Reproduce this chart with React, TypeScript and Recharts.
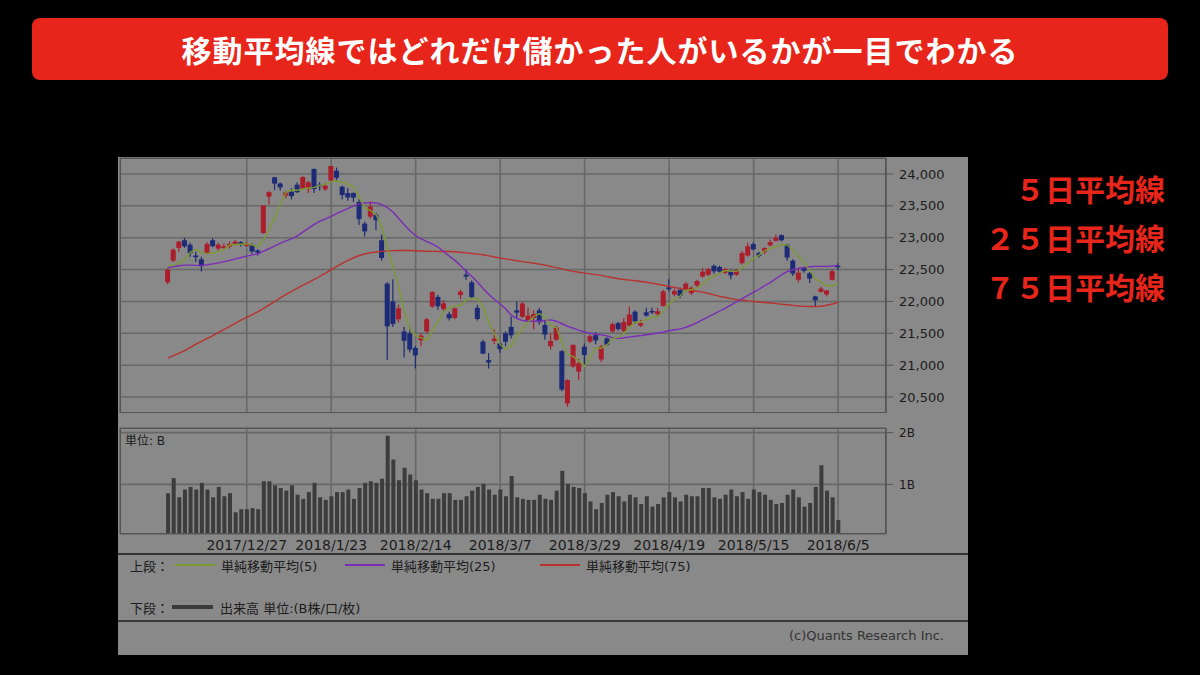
import { ComposedChart, Bar, Line, XAxis, YAxis, CartesianGrid } from "recharts";

// Nikkei 225 daily, 2017/12/7 - 2018/6/5 (index 0..119)
const opens = [
  22300, 22640, 22840, 22960, 22890, 22720, 22660, 22760, 22960, 22830,
  22840, 22860, 22900, 22930, 22870, 22890, 22800, 23073, 23643, 23948,
  23850, 23660, 23720, 23830, 23770, 23760, 24078, 23830, 23760, 23900,
  24050, 23800, 23700, 23700, 23560, 23220, 23330, 23360, 22960, 22280,
  22000, 21720, 21530, 21500, 21270, 21390, 21530, 21920, 22070, 21880,
  21800, 21740, 22100, 22420, 22300, 21900, 21370, 21080, 21380, 21340,
  21500, 21600, 21860, 21760, 21700, 21740, 21860, 21630, 21300, 21400,
  21220, 20400, 20980, 20900, 21290, 21370, 21470, 21090, 21420, 21530,
  21660, 21540, 21620, 21840, 21620, 21830, 21850, 21800, 21930, 22220,
  22110, 22180, 22180, 22130, 22250, 22390, 22420, 22560, 22540, 22450,
  22480, 22420, 22600, 22720, 22900, 22760, 22780, 22880, 22950, 23040,
  22890, 22640, 22340, 22520, 22440, 22080, 22150, 22110, 22340, 22560,
];
const highs = [
  22520, 22830, 22950, 23000, 22920, 22780, 22700, 22930, 22990, 22920,
  22910, 22940, 22960, 22950, 22930, 22910, 22820, 23506, 23730, 23952,
  23864, 23730, 23780, 23870, 23962, 23891, 24084, 23870, 23850, 24129,
  24100, 23820, 23780, 23710, 23600, 23250, 23570, 23390, 23050, 22300,
  22350, 21950, 21600, 21600, 21300, 21500, 21740, 22160, 22100, 22020,
  21840, 21900, 22180, 22500, 22330, 21950, 21400, 21190, 21560, 21360,
  21530, 21760, 22000, 21990, 21900, 21860, 21900, 21710, 21500, 21620,
  21240, 20780, 21330, 21100, 21340, 21480, 21520, 21320, 21440, 21670,
  21680, 21740, 21920, 21860, 21710, 21900, 21900, 21900, 22180, 22350,
  22200, 22220, 22300, 22240, 22340, 22520, 22530, 22580, 22560, 22530,
  22500, 22510, 22790, 22920, 22930, 22780, 22850, 22970, 23050, 23050,
  22900, 22660, 22520, 22540, 22460, 22090, 22230, 22180, 22500, 22600,
];
const lows = [
  22270, 22620, 22780, 22840, 22700, 22620, 22470, 22740, 22850, 22800,
  22810, 22830, 22880, 22860, 22860, 22750, 22720, 23065, 23520, 23750,
  23740, 23620, 23600, 23700, 23750, 23700, 23700, 23740, 23735, 23880,
  23900, 23600, 23580, 23560, 23200, 23020, 23300, 23120, 22640, 21080,
  21600, 21670, 21120, 21200, 20950, 21300, 21500, 21900, 21870, 21850,
  21700, 21720, 22040, 22340, 22050, 21700, 21170, 20950, 21330, 21190,
  21300, 21420, 21740, 21740, 21680, 21560, 21640, 21400, 21250, 21380,
  20590, 20347, 20960, 20770, 21010, 21350, 21330, 21050, 21300, 21510,
  21540, 21520, 21600, 21650, 21600, 21760, 21800, 21780, 21920, 22160,
  22080, 22050, 22160, 22100, 22230, 22370, 22400, 22440, 22440, 22430,
  22350, 22400, 22580, 22700, 22800, 22690, 22740, 22860, 22940, 22940,
  22640, 22400, 22300, 22450, 22290, 21930, 22140, 22080, 22330, 22490,
];
const closes = [
  22498, 22811, 22938, 22866, 22758, 22694, 22553, 22901, 22868, 22891,
  22866, 22902, 22939, 22892, 22911, 22783, 22764, 23506, 23714, 23849,
  23788, 23710, 23653, 23714, 23951, 23868, 23763, 23808, 23816, 24124,
  23940, 23669, 23631, 23629, 23291, 23098, 23486, 23274, 22682, 21610,
  21645, 21891, 21383, 21245, 21154, 21464, 21720, 22150, 21925, 21970,
  21736, 21892, 22153, 22389, 22068, 21724, 21181, 21042, 21417, 21252,
  21368, 21469, 21824, 21968, 21777, 21803, 21676, 21480, 21380, 21591,
  20617, 20766, 21317, 21031, 21159, 21454, 21388, 21292, 21319, 21645,
  21567, 21678, 21794, 21687, 21660, 21778, 21835, 21847, 22158, 22191,
  22162, 22088, 22278, 22215, 22319, 22467, 22508, 22472, 22467, 22509,
  22409, 22497, 22758, 22866, 22818, 22717, 22838, 22930, 23002, 22960,
  22689, 22437, 22451, 22481, 22358, 22018, 22202, 22171, 22475, 22539,
];
// volume, billions of shares
const volumes = [
  0.83, 1.12, 0.75, 0.9, 0.95, 0.9, 1.03, 0.9, 0.75, 0.95,
  0.77, 0.83, 0.46, 0.52, 0.52, 0.54, 0.52, 1.06, 1.06, 0.98,
  0.93, 0.88, 0.98, 0.8, 0.72, 0.85, 1.03, 0.75, 0.7, 0.77,
  0.85, 0.85, 0.9, 0.72, 0.93, 1.03, 1.06, 1.03, 1.11, 1.94,
  1.48, 1.08, 1.32, 1.19, 1.08, 0.9, 0.83, 0.72, 0.72, 0.83,
  0.83, 0.7, 0.7, 0.77, 0.88, 0.95, 1.01, 0.9, 0.8, 0.9,
  0.77, 1.16, 0.75, 0.72, 0.7, 0.7, 0.8, 0.72, 0.7, 0.88,
  1.26, 1.01, 0.95, 0.93, 0.83, 0.67, 0.52, 0.64, 0.8, 0.85,
  0.77, 0.67, 0.8, 0.75, 0.62, 0.77, 0.57, 0.62, 0.75, 0.85,
  0.75, 0.67, 0.8, 0.77, 0.77, 0.93, 0.93, 0.75, 0.72, 0.8,
  0.9, 0.77, 0.85, 0.72, 0.9, 0.85, 0.8, 0.7, 0.62, 0.64,
  0.8, 0.9, 0.75, 0.57, 0.64, 0.95, 1.37, 0.88, 0.75, 0.31,
];
const ma5 = [
  22565, 22563, 22609, 22658, 22774, 22813, 22762, 22754, 22755, 22781,
  22816, 22886, 22893, 22898, 22902, 22885, 22858, 22971, 23136, 23323,
  23524, 23713, 23743, 23743, 23763, 23779, 23790, 23821, 23841, 23876,
  23890, 23871, 23836, 23799, 23632, 23464, 23427, 23356, 23166, 22830,
  22539, 22220, 21842, 21555, 21464, 21427, 21393, 21547, 21683, 21846,
  21900, 21935, 21935, 22028, 22048, 22045, 21903, 21681, 21486, 21323,
  21252, 21310, 21466, 21576, 21681, 21768, 21810, 21741, 21623, 21586,
  21349, 21167, 21134, 21064, 20978, 21145, 21270, 21265, 21322, 21420,
  21442, 21500, 21601, 21674, 21677, 21719, 21751, 21761, 21856, 21962,
  22039, 22089, 22175, 22187, 22212, 22273, 22357, 22396, 22447, 22485,
  22473, 22471, 22528, 22608, 22670, 22731, 22799, 22834, 22861, 22889,
  22884, 22804, 22708, 22604, 22483, 22349, 22302, 22246, 22245, 22281,
];
const ma25 = [
  22530, 22545, 22560, 22570, 22570, 22565, 22565, 22575, 22590, 22605,
  22625, 22645, 22668, 22690, 22710, 22730, 22745, 22790, 22830, 22870,
  22915, 22950, 22985, 23030, 23090, 23150, 23210, 23260, 23295, 23335,
  23380, 23420, 23460, 23500, 23530, 23545, 23550, 23545, 23520, 23470,
  23400, 23300, 23200, 23110, 23030, 22980, 22940, 22900, 22850, 22780,
  22710, 22640, 22560, 22470, 22390, 22300, 22200, 22110, 22030, 21960,
  21880, 21780, 21730, 21700, 21690, 21690, 21690, 21700, 21710, 21690,
  21650, 21610, 21580, 21545, 21520, 21500, 21485, 21475, 21460, 21430,
  21420, 21430, 21445, 21455, 21465, 21478, 21490, 21505, 21520, 21540,
  21555, 21570, 21595, 21630, 21670, 21715, 21760, 21805, 21850, 21895,
  21945, 21995, 22045, 22095, 22145, 22195, 22250, 22300, 22360, 22420,
  22470, 22500, 22520, 22535, 22545, 22550, 22550, 22550, 22555, 22565,
];
const ma75 = [
  21110, 21150, 21190, 21230, 21280, 21330, 21375, 21420, 21465, 21515,
  21560, 21610, 21660, 21705, 21750, 21795, 21840, 21890, 21945, 22000,
  22060, 22110, 22160, 22210, 22255, 22300, 22345, 22395, 22445, 22500,
  22550, 22600, 22645, 22685, 22720, 22745, 22765, 22775, 22785, 22792,
  22797, 22800, 22800, 22798, 22795, 22792, 22788, 22785, 22784, 22784,
  22783, 22780, 22772, 22762, 22752, 22742, 22732, 22715, 22698, 22682,
  22668, 22652, 22638, 22625, 22612, 22600, 22585, 22568, 22550, 22530,
  22510, 22488, 22472, 22458, 22445, 22432, 22420, 22408, 22390, 22372,
  22355, 22345, 22335, 22324, 22312, 22300, 22288, 22270, 22253, 22236,
  22218, 22200, 22184, 22172, 22160, 22147, 22125, 22102, 22080, 22062,
  22045, 22027, 22018, 22008, 22000, 21992, 21983, 21975, 21965, 21955,
  21948, 21938, 21928, 21922, 21920, 21920, 21925, 21940, 21960, 21985,
];

const tickIndex = [14, 29, 44, 59, 74, 89, 104, 119];
const tickLabels = [
  "2017/12/27", "2018/1/23", "2018/2/14", "2018/3/7",
  "2018/3/29", "2018/4/19", "2018/5/15", "2018/6/5",
];
const priceTicks = [20500, 21000, 21500, 22000, 22500, 23000, 23500, 24000];
const volumeTicks = [1, 2];

const rows = closes.map((close, i) => ({
  i,
  open: opens[i],
  high: highs[i],
  low: lows[i],
  close,
  range: [lows[i], highs[i]],
  volume: volumes[i],
  ma5: ma5[i],
  ma25: ma25[i],
  ma75: ma75[i],
}));

const PANEL = "#898989";
const GRID = "#686868";
const BORDER = "#555";
const TEXT = "#1c1c1c";
const UP = "#ab1d2b";
const DOWN = "#1d2a76";
const RED = "#e8251a";
const X_DOMAIN = [-8.5, 127.5];

function Candle(props: any) {
  const { x, y, width, height, payload } = props;
  if (!payload) return null;
  const { open, close, high, low } = payload;
  const top = Math.min(y, y + height);
  const h = Math.abs(height);
  const k = high > low ? h / (high - low) : 0;
  const yo = top + (high - open) * k;
  const yc = top + (high - close) * k;
  const color = close >= open ? UP : DOWN;
  const cx = x + width / 2;
  return (
    <g>
      <line x1={cx} x2={cx} y1={top} y2={top + h} stroke={color} strokeWidth={1.2} />
      <rect
        x={x}
        y={Math.min(yo, yc)}
        width={width}
        height={Math.max(1.5, Math.abs(yo - yc))}
        fill={color}
      />
    </g>
  );
}

const fmtDate = (v: number) => tickLabels[tickIndex.indexOf(v)] ?? "";

export default function App() {
  return (
    <div
      style={{
        position: "absolute",
        left: 0,
        top: 0,
        width: 1200,
        height: 675,
        background: "#000",
        overflow: "hidden",
        fontFamily: "'DejaVu Sans', 'Noto Sans CJK JP', sans-serif",
      }}
    >
      {/* title banner */}
      <div
        style={{
          position: "absolute",
          left: 32,
          top: 18,
          width: 1136,
          height: 62,
          borderRadius: 8,
          background: RED,
          color: "#fff",
          fontFamily: "'Noto Sans CJK JP', sans-serif",
          fontWeight: 700,
          fontSize: 30,
          letterSpacing: 1,
          lineHeight: "62px",
          textAlign: "center",
        }}
      >
        移動平均線ではどれだけ儲かった人がいるかが一目でわかる
      </div>

      {/* right side labels */}
      {["５日平均線", "２５日平均線", "７５日平均線"].map((t, k) => (
        <div
          key={t}
          style={{
            position: "absolute",
            right: 35,
            top: 168 + k * 49,
            color: RED,
            fontFamily: "'Noto Sans CJK JP', sans-serif",
            fontWeight: 700,
            fontSize: 30,
            lineHeight: "40px",
          }}
        >
          {t}
        </div>
      ))}

      {/* chart panel */}
      <div
        style={{
          position: "absolute",
          left: 118,
          top: 157,
          width: 850,
          height: 498,
          background: PANEL,
        }}
      />

      {/* price chart */}
      <div style={{ position: "absolute", left: 118, top: 157 }}>
        <ComposedChart
          width={850}
          height={256}
          data={rows}
          margin={{ top: 1, right: 0, bottom: 0, left: 2 }}
        >
          <CartesianGrid stroke={GRID} strokeWidth={1.6} />
          <XAxis
            dataKey="i"
            type="number"
            domain={X_DOMAIN}
            ticks={tickIndex}
            allowDataOverflow
            hide
          />
          <YAxis
            orientation="right"
            domain={[20250, 24250]}
            ticks={priceTicks}
            allowDataOverflow
            width={82}
            axisLine={{ stroke: BORDER }}
            tickLine={{ stroke: BORDER }}
            tickSize={7}
            tickMargin={6}
            tick={{ fill: TEXT, fontSize: 13 }}
            tickFormatter={(v: number) => v.toLocaleString("en-US")}
          />
          <Bar dataKey="range" barSize={5} shape={<Candle />} isAnimationActive={false} />
          <Line dataKey="ma75" stroke="#b8322e" strokeWidth={1.4} dot={false} isAnimationActive={false} />
          <Line dataKey="ma25" stroke="#7a2cb8" strokeWidth={1.4} dot={false} isAnimationActive={false} />
          <Line dataKey="ma5" stroke="#7d9a32" strokeWidth={1.4} dot={false} isAnimationActive={false} />
        </ComposedChart>
      </div>
      <div
        style={{
          position: "absolute",
          left: 120,
          top: 158,
          width: 766,
          height: 255,
          border: `1px solid ${BORDER}`,
          boxSizing: "border-box",
          pointerEvents: "none",
        }}
      />

      {/* volume chart */}
      <div style={{ position: "absolute", left: 118, top: 420 }}>
        <ComposedChart
          width={850}
          height={140}
          data={rows}
          margin={{ top: 8, right: 0, bottom: 0, left: 2 }}
        >
          <CartesianGrid stroke={GRID} strokeWidth={1.6} />
          <XAxis
            dataKey="i"
            type="number"
            domain={X_DOMAIN}
            ticks={tickIndex}
            allowDataOverflow
            interval={0}
            height={26}
            axisLine={false}
            tickLine={false}
            tickSize={4}
            tick={{ fill: TEXT, fontSize: 14 }}
            tickFormatter={fmtDate}
          />
          <YAxis
            orientation="right"
            domain={[0.04, 2.09]}
            ticks={volumeTicks}
            allowDataOverflow
            width={82}
            axisLine={{ stroke: BORDER }}
            tickLine={{ stroke: BORDER }}
            tickSize={7}
            tickMargin={6}
            tick={{ fill: TEXT, fontSize: 12 }}
            tickFormatter={(v: number) => `${v}B`}
          />
          <Bar dataKey="volume" fill="#3c3c3c" barSize={4} isAnimationActive={false} />
        </ComposedChart>
      </div>
      <div
        style={{
          position: "absolute",
          left: 120,
          top: 428,
          width: 766,
          height: 106,
          border: `1px solid ${BORDER}`,
          boxSizing: "border-box",
          pointerEvents: "none",
        }}
      />
      <div style={{ position: "absolute", left: 125, top: 431, fontSize: 12, color: TEXT }}>
        単位: B
      </div>

      {/* legend box */}
      <div
        style={{
          position: "absolute",
          left: 118,
          top: 553,
          width: 850,
          height: 69,
          borderTop: "2px solid #333",
          borderBottom: "2px solid #3a3a3a",
          boxSizing: "border-box",
        }}
      />
      <div style={{ position: "absolute", left: 130, top: 556, fontSize: 13, color: TEXT }}>
        上段：
      </div>
      {[
        { x: 175, color: "#7d9a32", label: "単純移動平均(5)" },
        { x: 345, color: "#7a2cb8", label: "単純移動平均(25)" },
        { x: 540, color: "#b8322e", label: "単純移動平均(75)" },
      ].map((d) => (
        <div key={d.label}>
          <div
            style={{
              position: "absolute",
              left: d.x,
              top: 564,
              width: 40,
              height: 2,
              background: d.color,
            }}
          />
          <div
            style={{ position: "absolute", left: d.x + 46, top: 556, fontSize: 13, color: TEXT }}
          >
            {d.label}
          </div>
        </div>
      ))}
      <div style={{ position: "absolute", left: 130, top: 598, fontSize: 13, color: TEXT }}>
        下段：
      </div>
      <div
        style={{
          position: "absolute",
          left: 172,
          top: 605,
          width: 41,
          height: 4,
          background: "#3a3a3a",
        }}
      />
      <div style={{ position: "absolute", left: 220, top: 598, fontSize: 13, color: TEXT }}>
        出来高 単位:(B株/口/枚)
      </div>
      <div
        style={{
          position: "absolute",
          right: 1200 - 944,
          top: 628,
          fontSize: 13,
          color: "#333",
        }}
      >
        (c)Quants Research Inc.
      </div>
    </div>
  );
}
